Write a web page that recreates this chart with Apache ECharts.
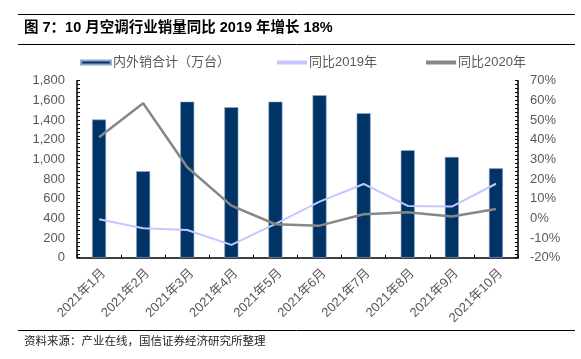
<!DOCTYPE html>
<html><head><meta charset="utf-8">
<script src="https://cdn.jsdelivr.net/npm/echarts@6/dist/echarts.min.js"></script>
<style>html,body{margin:0;padding:0;background:#fff}#c{width:581px;height:359px}</style>
</head><body><div id="c"></div>
<script>
var categories = ['2021年1月','2021年2月','2021年3月','2021年4月','2021年5月','2021年6月','2021年7月','2021年8月','2021年9月','2021年10月'];
var salesTotal = [1405, 879, 1587, 1530, 1587, 1652, 1469, 1093, 1024, 909];
var yoy2019 = [-0.5, -5.0, -5.9, -13.5, -2.8, 8.5, 17.5, 6.3, 6.0, 17.6];
var yoy2020 = [41.2, 58.5, 26.0, 6.5, -3.0, -3.7, 2.1, 3.1, 0.9, 4.8];
var leftTicks = {min: 0, max: 1800, interval: 200};
var rightTicks = {min: -20, max: 70, interval: 10};
var seriesNames = ['内外销合计（万台）', '同比2019年', '同比2020年'];

var labelColor = '#595959';
var font = 'Liberation Sans, Arial, Noto Sans CJK SC, sans-serif';
var cjk = 'Liberation Sans, Noto Sans CJK SC, sans-serif';
var legendLefts = [75, 272, 421];
function mkLegend(i) {
  return {
    left: legendLefts[i], top: 51, itemWidth: 30, itemHeight: 4, icon: 'rect',
    textStyle: {color: labelColor, fontSize: 13, fontFamily: cjk, padding: [0,0,0,-3]},
    data: [seriesNames[i]]
  };
}
var chart = echarts.init(document.getElementById('c'), null, {renderer: 'canvas'});
chart.setOption({
  animation: false,
  backgroundColor: '#fff',
  graphic: [
    {type: 'line', shape: {x1: 18, y1: 14.5, x2: 575, y2: 14.5}, style: {stroke: '#000', lineWidth: 1}},
    {type: 'line', shape: {x1: 18, y1: 44.5, x2: 575, y2: 44.5}, style: {stroke: '#000', lineWidth: 1}},
    {type: 'line', shape: {x1: 18, y1: 330.5, x2: 575, y2: 330.5}, style: {stroke: '#000', lineWidth: 1}},
    {type: 'text', left: 24, top: 21, style: {text: '图 7：10 月空调行业销量同比 2019 年增长 18%', font: 'bold 14.5px ' + cjk, fill: '#000'}},
    {type: 'text', left: 24, top: 335, style: {text: '资料来源：产业在线，国信证券经济研究所整理', font: '11.5px Noto Sans CJK SC, sans-serif', fill: '#222'}}
  ],
  legend: [mkLegend(0), mkLegend(1), mkLegend(2)],
  grid: {left: 77, right: 63, top: 80.7, bottom: 101.3, containLabel: false},
  xAxis: {
    type: 'category', data: categories, boundaryGap: true,
    axisLine: {lineStyle: {color: '#000', width: 1.5}},
    axisTick: {show: true, inside: true, length: 3, alignWithLabel: false, lineStyle: {color: '#000'}},
    axisLabel: {rotate: 45, color: labelColor, fontSize: 13, fontFamily: cjk, margin: 9, verticalAlign: 'top', interval: 0}
  },
  yAxis: [
    {
      type: 'value', min: leftTicks.min, max: leftTicks.max, interval: leftTicks.interval,
      axisLine: {show: true, lineStyle: {color: '#000', width: 1.5}},
      axisTick: {show: true, inside: true, length: 3, lineStyle: {color: '#000'}},
      minorTick: {show: true, splitNumber: 5, length: 3, lineStyle: {color: '#000'}},
      splitLine: {show: false},
      axisLabel: {color: labelColor, fontSize: 13, fontFamily: font, margin: 12,
        formatter: function (v) { return v.toLocaleString('en-US'); }}
    },
    {
      type: 'value', min: rightTicks.min, max: rightTicks.max, interval: rightTicks.interval, position: 'right',
      axisLine: {show: true, lineStyle: {color: '#000', width: 1.5}},
      axisTick: {show: true, inside: true, length: 3, lineStyle: {color: '#000'}},
      minorTick: {show: true, splitNumber: 5, length: 3, lineStyle: {color: '#000'}},
      splitLine: {show: false},
      axisLabel: {color: labelColor, fontSize: 13, fontFamily: font, margin: 12, formatter: '{value}%'}
    }
  ],
  series: [
    {name: seriesNames[0], type: 'bar', data: salesTotal, barWidth: 14, yAxisIndex: 0,
      itemStyle: {color: '#003366', borderColor: '#8fa9c8', borderWidth: 0.6}},
    {name: seriesNames[1], type: 'line', data: yoy2019, yAxisIndex: 1, symbol: 'none',
      lineStyle: {color: '#c6c6ff', width: 2}, itemStyle: {color: '#c6c6ff'}},
    {name: seriesNames[2], type: 'line', data: yoy2020, yAxisIndex: 1, symbol: 'none',
      lineStyle: {color: '#878787', width: 2.5}, itemStyle: {color: '#878787'}}
  ]
});
</script></body></html>
